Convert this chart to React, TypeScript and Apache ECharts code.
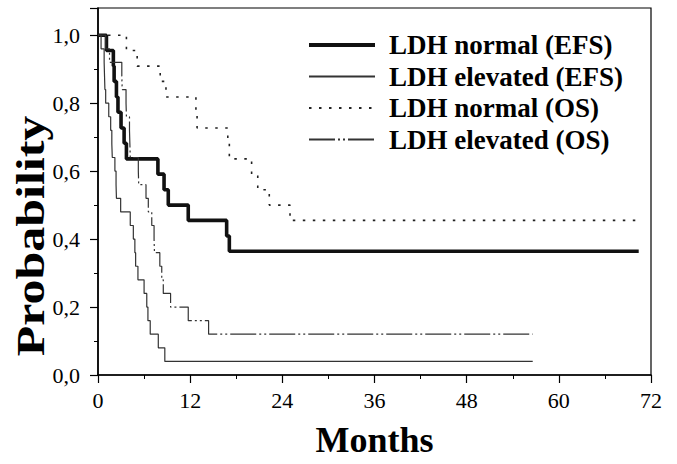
import React, { useEffect, useRef } from 'react';
import * as echarts from 'echarts';

const seriesNames = ['LDH normal (EFS)', 'LDH elevated (EFS)', 'LDH normal (OS)', 'LDH elevated (OS)'];

// [months, probability] — Kaplan-Meier steps (value after the event)
const efsNormal: number[][] = [
  [0, 1], [1.1, 0.955], [2.0, 0.909], [2.1, 0.864], [2.4, 0.818], [2.6, 0.773], [3.0, 0.727],
  [3.4, 0.682], [3.7, 0.636], [7.8, 0.591], [8.6, 0.545], [9.15, 0.5], [11.75, 0.455],
  [16.75, 0.409], [17.1, 0.364], [70.4, 0.364],
];
const efsElevated: number[][] = [
  [0, 1], [0.4, 0.96], [0.8, 0.92], [0.85, 0.88], [0.9, 0.84], [1.0, 0.8], [1.4, 0.76],
  [1.65, 0.72], [1.8, 0.68], [1.86, 0.64], [2.2, 0.6], [2.35, 0.56], [2.4, 0.52], [2.95, 0.48],
  [4.2, 0.44], [4.6, 0.4], [4.8, 0.36], [4.9, 0.32], [5.2, 0.28], [6.0, 0.24], [6.35, 0.2],
  [6.5, 0.16], [6.8, 0.12], [7.85, 0.08], [8.7, 0.04], [56.6, 0.04],
];
const osNormal: number[][] = [
  [0, 1], [3.7, 0.955], [5.1, 0.909], [8.1, 0.864], [8.85, 0.818], [12.75, 0.773], [12.9, 0.727],
  [16.9, 0.682], [17.1, 0.636], [20.0, 0.591], [20.8, 0.545], [22.3, 0.5], [25.0, 0.455],
  [70.0, 0.455],
];
const osElevated: number[][] = [
  [0, 1], [1.0, 0.96], [1.5, 0.92], [3.1, 0.88], [3.15, 0.84], [3.65, 0.8], [3.7, 0.76],
  [4.1, 0.72], [4.15, 0.68], [4.2, 0.64], [5.25, 0.6], [5.3, 0.56], [6.25, 0.52], [6.55, 0.48],
  [7.0, 0.44], [7.3, 0.4], [7.35, 0.36], [8.05, 0.32], [8.3, 0.28], [8.5, 0.24], [9.45, 0.2],
  [11.75, 0.16], [14.4, 0.12], [56.6, 0.12],
];

const xMin = 0;
const xMax = 72;
const xInterval = 12;
const yMin = 0;
const yMax = 1.08;
const yInterval = 0.2;

const SERIF = '"Liberation Serif", "DejaVu Serif", serif';

export default function App() {
  const ref = useRef<HTMLDivElement>(null);
  useEffect(() => {
    if (!ref.current) return;
    const chart = echarts.init(ref.current, undefined, { renderer: 'svg' });
    const mk = (name: string, data: number[][], color: string, width: number, type: any) => ({
      type: 'line',
      name,
      data,
      step: 'end',
      symbol: 'none',
      showSymbol: false,
      lineStyle: { color, width, type, cap: 'butt' },
      itemStyle: { color },
      emphasis: { disabled: true },
    });
    chart.setOption({
      animation: false,
      backgroundColor: '#ffffff',
      grid: { left: 98, right: 26, top: 8, bottom: 89, show: true, borderColor: '#000', borderWidth: 1.2, backgroundColor: 'transparent' },
      legend: {
        orient: 'vertical',
        left: 307,
        top: 31.5,
        padding: 0,
        itemWidth: 66,
        itemHeight: 14,
        itemGap: 4.5,
        icon: 'inherit',
        itemStyle: { opacity: 0 },
        data: [
          { name: seriesNames[0], lineStyle: { width: 4 } },
          { name: seriesNames[1] },
          { name: seriesNames[2] },
          { name: seriesNames[3] },
        ],
        textStyle: { fontFamily: SERIF, fontWeight: 'bold', fontSize: 27, color: '#000', lineHeight: 27, padding: [0, 0, 0, 9] },
      },
      xAxis: {
        type: 'value',
        min: xMin,
        max: xMax,
        interval: xInterval,
        name: 'Months',
        nameLocation: 'middle',
        nameGap: 47,
        nameTextStyle: { fontFamily: SERIF, fontWeight: 'bold', fontSize: 36, color: '#000' },
        axisLine: { show: true, onZero: false, lineStyle: { color: '#000', width: 1.6 } },
        axisTick: { show: true, length: 8, lineStyle: { color: '#000', width: 1.2 } },
        minorTick: { show: true, splitNumber: 2, length: 4, lineStyle: { color: '#000', width: 1 } },
        splitLine: { show: false },
        axisLabel: { fontFamily: SERIF, fontSize: 22, color: '#000', margin: 14 },
      },
      yAxis: {
        type: 'value',
        min: yMin,
        max: yMax,
        interval: yInterval,
        axisLine: { show: true, lineStyle: { color: '#000', width: 1.6 } },
        axisTick: { show: true, length: 8, lineStyle: { color: '#000', width: 1.2 } },
        minorTick: { show: true, splitNumber: 2, length: 4, lineStyle: { color: '#000', width: 1 } },
        splitLine: { show: false },
        axisLabel: {
          fontFamily: SERIF,
          fontSize: 22,
          color: '#000',
          margin: 18,
          showMaxLabel: false,
          formatter: (v: number) => {
            const k = v / yInterval;
            if (Math.abs(k - Math.round(k)) > 1e-6 || v > 1.0001) return '';
            return v.toFixed(1).replace('.', ',');
          },
        },
      },
      graphic: [
        {
          type: 'text',
          x: 31,
          y: 236,
          rotation: Math.PI / 2,
          scaleX: 1,
          scaleY: 0.78,
          style: {
            text: 'Probability',
            fontFamily: SERIF,
            fontWeight: 'bold',
            fontSize: 50,
            fill: '#000',
            textAlign: 'center',
            textVerticalAlign: 'middle',
          },
        },
      ],
      series: [
        mk(seriesNames[0], efsNormal, '#111', 3.6, 'solid'),
        mk(seriesNames[1], efsElevated, '#333', 1.2, 'solid'),
        mk(seriesNames[2], osNormal, '#222', 1.6, [2.5, 7.5]),
        mk(seriesNames[3], osElevated, '#333', 1.2, [26, 3, 2, 3, 2, 3]),
      ],
    });
    return () => chart.dispose();
  }, []);
  return <div ref={ref} style={{ width: 677, height: 464, position: 'absolute', left: 0, top: 0 }} />;
}
